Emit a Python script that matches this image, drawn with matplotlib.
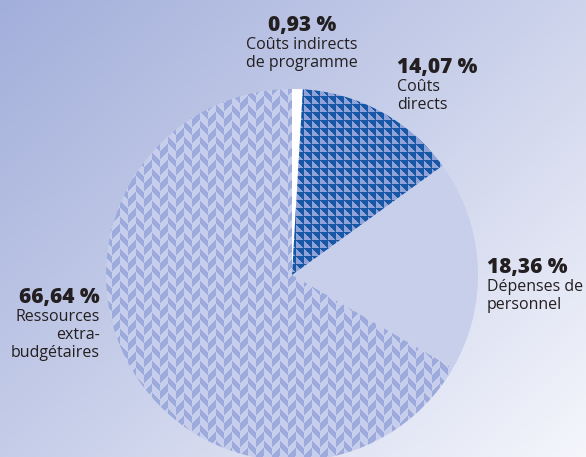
import numpy as np
import matplotlib
matplotlib.use("Agg")
import matplotlib.pyplot as plt
from matplotlib.colors import LinearSegmentedColormap

# ---- data ----
shares = [0.93, 14.07, 18.36, 66.64]
pct_labels = ["0,93 %", "14,07 %", "18,36 %", "66,64 %"]
names = ["Coûts indirects\nde programme", "Coûts\ndirects", "Dépenses de\npersonnel",
         "Ressources\nextra-\nbudgétaires"]

W, H = 586, 457
fig = plt.figure(figsize=(W / 100, H / 100), dpi=100)
ax = fig.add_axes([0, 0, 1, 1])
ax.set_xlim(0, W)
ax.set_ylim(0, H)
ax.axis("off")

# background gradient (top-left blue -> bottom-right near white)
yy, xx = np.mgrid[0:H, 0:W]
t = (xx / W * 0.55 + yy / H * 0.45)
cmap_bg = LinearSegmentedColormap.from_list("bg", ["#a3afdb", "#c9d0ea", "#f5f6fc"])
ax.imshow(t, cmap=cmap_bg, extent=(0, W, 0, H), origin="upper", aspect="auto",
          zorder=0, interpolation="bilinear")

cx, cy, R = 292, H - 275, 186
wedges, _ = ax.pie(shares, startangle=90, counterclock=False, center=(cx, cy),
                   radius=R, frame=True,
                   colors=["white", "none", "#c8cfea", "none"],
                   wedgeprops=dict(linewidth=0))
ax.set_xlim(0, W)
ax.set_ylim(0, H)
ax.set_aspect("auto")

def rgb(h):
    h = h.lstrip("#")
    return np.array([int(h[i:i + 2], 16) for i in (0, 2, 4)]) / 255.0

# dark triangle pattern (8px cells)
r8 = yy % 8
c8 = xx % 8
dark = np.where((c8 >= r8)[..., None], rgb("#1856a6"), rgb("#8fa3d8"))
# light triangle pattern (16px blocks of 8px triangles)
R16 = (yy % 16) // 8
C16 = (xx % 16) // 8
m = np.zeros((H, W), bool)
m |= (R16 == 0) & (C16 == 0) & (r8 + c8 >= 7)
m |= (R16 == 1) & (C16 == 0) & (r8 + c8 < 7)
m |= (R16 == 0) & (C16 == 1) & (c8 > r8)
m |= (R16 == 1) & (C16 == 1) & (r8 > c8)
light = np.where(m[..., None], rgb("#9cabdb"), rgb("#c6ceeb"))

for idx, img in ((1, dark), (3, light)):
    im = ax.imshow(img, extent=(0, W, 0, H), origin="upper", aspect="auto",
                   interpolation="nearest", zorder=wedges[idx].get_zorder())
    im.set_clip_path(wedges[idx])

fam = ["Open Sans", "DejaVu Sans"]
bold_kw = dict(fontsize=15, fontweight="heavy", color="#231f20", family=fam)
reg_kw = dict(fontsize=11.5, color="#231f20", family=fam, linespacing=1.17)

# label positions in pixels (x, y of percent line, alignment)
lab_pos = [(302, 25, "center"), (397, 67, "left"), (487, 267, "left"), (100, 297, "right")]
for (x, y, ha), p, n in zip(lab_pos, pct_labels, names):
    ax.text(x, H - y, p, ha=ha, va="center", **bold_kw)
    ax.text(x, H - y - 12, n, ha=ha, va="top", multialignment=ha, **reg_kw)

fig.savefig("out.png", dpi=100)
